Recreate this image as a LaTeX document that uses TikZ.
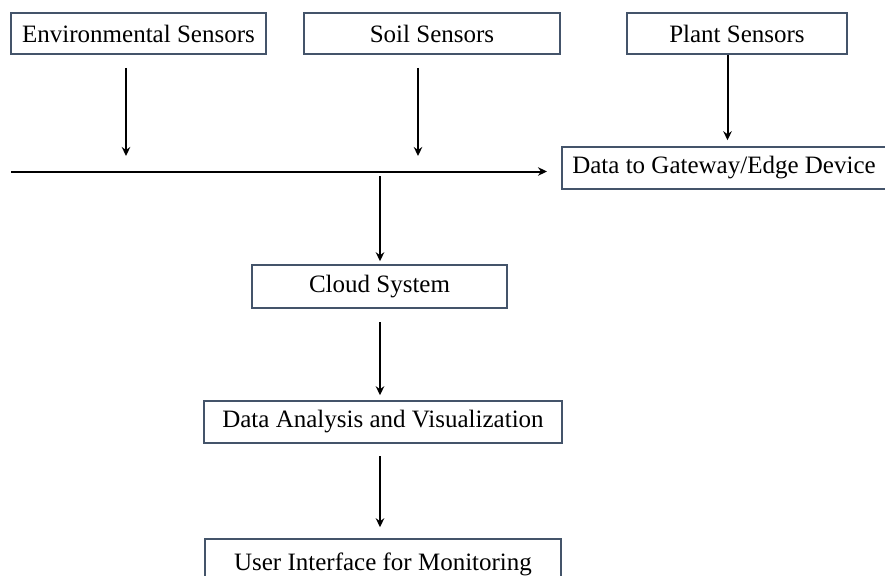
\documentclass[tikz,border=0pt]{standalone}
\usepackage{fontspec}
\setmainfont{Liberation Serif}
\usetikzlibrary{arrows.meta}
\definecolor{boxline}{HTML}{44546A}
\begin{document}
\begin{tikzpicture}[x=1pt,y=-1pt,
  box/.style={draw=boxline,line width=1.5pt,fill=white,inner sep=0pt,
    font=\fontsize{25}{29}\selectfont,text=black},
  arr/.style={line width=2pt,-{Stealth[length=9pt,width=8.5pt]}}]
\useasboundingbox (0,0) rectangle (885,575);
\node[box,minimum width=255pt,minimum height=41pt] (env) at (138.5,33.5) {Environmental Sensors};
\node[box,minimum width=256pt,minimum height=41pt] (soil) at (432,33.5) {Soil Sensors};
\node[box,minimum width=220pt,minimum height=41pt] (plant) at (737,33.5) {Plant Sensors};
\node[box,minimum width=324pt,minimum height=42pt] (gw) at (724,168) {Data to Gateway/Edge Device};
\node[box,minimum width=255pt,minimum height=43pt] (cloud) at (379.5,286.5) {Cloud System};
\node[box,minimum width=358pt,minimum height=42pt] (da) at (383,422) {Data Analysis and Visualization};
\node[box,minimum width=356pt,minimum height=50pt] (ui) at (383,564) {User Interface for Monitoring};
% free ends
\coordinate (hl) at (11,171.5);
\coordinate (hr) at (547,171.5);
\coordinate (e1) at (126,68);
\coordinate (e2) at (126,156);
\coordinate (s1) at (418,68);
\coordinate (s2) at (418,156);
\coordinate (c1) at (380,176);
\coordinate (d1) at (380,322);
\coordinate (u1) at (380,456);
\draw[arr] (hl) -- (hr);
\draw[arr] (e1) -- (e2);
\draw[arr] (s1) -- (s2);
\draw[arr,shorten >=6pt] (plant.south -| 727.5,0) -- (gw.north -| 727.5,0);
\draw[arr,shorten >=3pt] (c1) -- (cloud.north -| c1);
\draw[arr,shorten >=5pt] (d1) -- (da.north -| d1);
\draw[arr,shorten >=11pt] (u1) -- (ui.north -| u1);
\end{tikzpicture}
\end{document}
